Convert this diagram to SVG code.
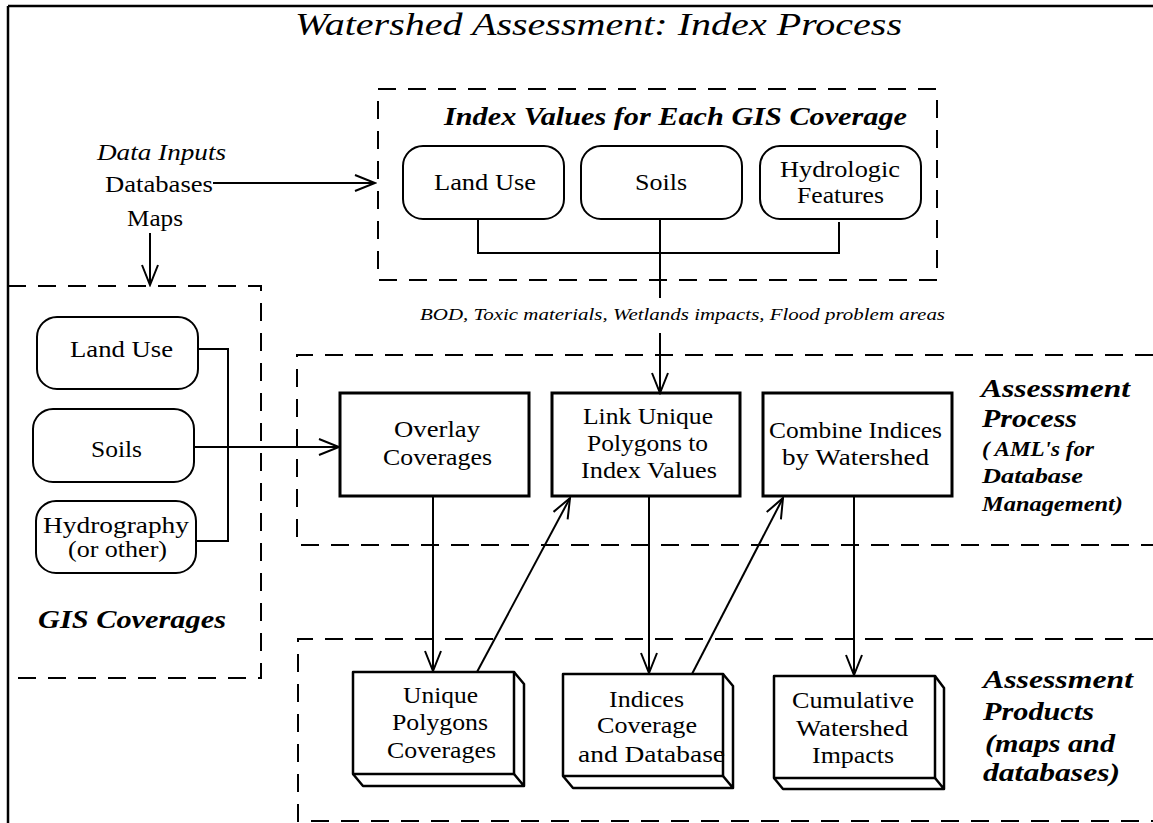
<svg xmlns="http://www.w3.org/2000/svg" width="1153" height="823" viewBox="0 0 1153 823" font-family="'Liberation Serif','DejaVu Serif',serif">
<style>
text{font-family:"Liberation Serif","DejaVu Serif","Times New Roman",serif;fill:#000}
.lb{font-size:23px}
.it{font-style:italic}
.bi{font-style:italic;font-weight:bold;font-size:25px}
.sm{font-size:21px}
.dash{fill:none;stroke:#000;stroke-width:2;stroke-dasharray:18 12}
.rr{fill:#fff;stroke:#000;stroke-width:2}
.pr{fill:#fff;stroke:#000;stroke-width:3}
.bx{fill:#fff;stroke:#000;stroke-width:2.5;stroke-linejoin:round}
.cn{fill:none;stroke:#000;stroke-width:2}
</style>
<defs>
<marker id="ah" markerUnits="userSpaceOnUse" markerWidth="24" markerHeight="22" viewBox="0 0 24 22" refX="22" refY="11" orient="auto">
<path d="M2,3 L22,11 L2,19" fill="none" stroke="#000" stroke-width="2"/>
</marker>
</defs>
<rect width="1153" height="823" fill="#fff"/>
<g id="frame">
<path d="M8,6 H1153 M8,6 V823" fill="none" stroke="#000" stroke-width="2.5"/>
</g>
<g id="title">
<text x="295" y="35" class="it" font-size="32" textLength="607" lengthAdjust="spacingAndGlyphs">Watershed Assessment: Index Process</text>
</g>
<g id="data-inputs">
<text x="97" y="160" class="lb it" textLength="129" lengthAdjust="spacingAndGlyphs">Data Inputs</text>
<text x="105" y="192" class="lb" textLength="108" lengthAdjust="spacingAndGlyphs">Databases</text>
<text x="127" y="226" class="lb" textLength="56" lengthAdjust="spacingAndGlyphs">Maps</text>
</g>
<g id="index-values">
<rect x="378" y="89" width="559" height="191" class="dash"/>
<text x="444" y="125" class="bi" textLength="463" lengthAdjust="spacingAndGlyphs">Index Values for Each GIS Coverage</text>
<g id="iv-landuse">
<rect x="403" y="146" width="161" height="73" rx="20" class="rr"/>
<text x="434" y="190" class="lb" textLength="102" lengthAdjust="spacingAndGlyphs">Land Use</text>
</g>
<g id="iv-soils">
<rect x="581" y="146" width="161" height="73" rx="20" class="rr"/>
<text x="635" y="190" class="lb" textLength="52" lengthAdjust="spacingAndGlyphs">Soils</text>
</g>
<g id="iv-hydro">
<rect x="760" y="146" width="161" height="73" rx="20" class="rr"/>
<text x="780" y="177" class="lb" textLength="120" lengthAdjust="spacingAndGlyphs">Hydrologic</text>
<text x="797" y="203" class="lb" textLength="87" lengthAdjust="spacingAndGlyphs">Features</text>
</g>
</g>
<g id="gis-coverages">
<rect x="8" y="286" width="253" height="392" class="dash"/>
<g id="gis-landuse">
<rect x="37" y="317" width="161" height="72" rx="20" class="rr"/>
<text x="70" y="357" class="lb" textLength="103" lengthAdjust="spacingAndGlyphs">Land Use</text>
</g>
<g id="gis-soils">
<rect x="33" y="409" width="161" height="73" rx="20" class="rr"/>
<text x="91" y="457" class="lb" textLength="51" lengthAdjust="spacingAndGlyphs">Soils</text>
</g>
<g id="gis-hydro">
<rect x="36" y="501" width="160" height="72" rx="20" class="rr"/>
<text x="43" y="533" class="lb" textLength="146" lengthAdjust="spacingAndGlyphs">Hydrography</text>
<text x="68" y="557" class="lb" textLength="99" lengthAdjust="spacingAndGlyphs">(or other)</text>
</g>
<text x="38" y="628" class="bi" textLength="188" lengthAdjust="spacingAndGlyphs">GIS Coverages</text>
</g>
<g id="assessment-process">
<path d="M1153,355 H297 V545 H1153" class="dash"/>
<text x="981" y="397" class="bi" textLength="149" lengthAdjust="spacingAndGlyphs">Assessment</text>
<text x="982" y="427" class="bi" textLength="95" lengthAdjust="spacingAndGlyphs">Process</text>
<text x="982" y="456" class="bi sm" textLength="112" lengthAdjust="spacingAndGlyphs">( AML's for</text>
<text x="982" y="483" class="bi sm" textLength="101" lengthAdjust="spacingAndGlyphs">Database</text>
<text x="982" y="511" class="bi sm" textLength="141" lengthAdjust="spacingAndGlyphs">Management)</text>
<g id="overlay">
<rect x="340" y="393" width="189" height="103" class="pr"/>
<text x="394" y="437" class="lb" textLength="86" lengthAdjust="spacingAndGlyphs">Overlay</text>
<text x="383" y="465" class="lb" textLength="109" lengthAdjust="spacingAndGlyphs">Coverages</text>
</g>
<g id="link">
<rect x="552" y="393" width="188" height="103" class="pr"/>
<text x="583" y="424" class="lb" textLength="130" lengthAdjust="spacingAndGlyphs">Link Unique</text>
<text x="587" y="451" class="lb" textLength="121" lengthAdjust="spacingAndGlyphs">Polygons to</text>
<text x="581" y="478" class="lb" textLength="136" lengthAdjust="spacingAndGlyphs">Index Values</text>
</g>
<g id="combine">
<rect x="763" y="393" width="189" height="103" class="pr"/>
<text x="769" y="438" class="lb" textLength="173" lengthAdjust="spacingAndGlyphs">Combine Indices</text>
<text x="782" y="465" class="lb" textLength="147" lengthAdjust="spacingAndGlyphs">by Watershed</text>
</g>
</g>
<g id="assessment-products">
<path d="M1153,639 H298 V821 H1153" class="dash"/>
<text x="983" y="688" class="bi" textLength="150" lengthAdjust="spacingAndGlyphs">Assessment</text>
<text x="983" y="720" class="bi" textLength="111" lengthAdjust="spacingAndGlyphs">Products</text>
<text x="985" y="752" class="bi" textLength="130" lengthAdjust="spacingAndGlyphs">(maps and</text>
<text x="983" y="781" class="bi" textLength="137" lengthAdjust="spacingAndGlyphs">databases)</text>
<g id="unique-polygons">
<path d="M514,672 L524,684 L524,786 L363,786 L353,774 M514,774 L524,786" class="bx"/>
<rect x="353" y="672" width="161" height="102" class="bx"/>
<text x="403" y="703" class="lb" textLength="75" lengthAdjust="spacingAndGlyphs">Unique</text>
<text x="392" y="730" class="lb" textLength="96" lengthAdjust="spacingAndGlyphs">Polygons</text>
<text x="387" y="758" class="lb" textLength="109" lengthAdjust="spacingAndGlyphs">Coverages</text>
</g>
<g id="indices">
<path d="M723,674 L733,686 L733,788 L573,788 L563,776 M723,776 L733,788" class="bx"/>
<rect x="563" y="674" width="160" height="102" class="bx"/>
<text x="609" y="707" class="lb" textLength="75" lengthAdjust="spacingAndGlyphs">Indices</text>
<text x="597" y="733" class="lb" textLength="100" lengthAdjust="spacingAndGlyphs">Coverage</text>
<text x="578" y="762" class="lb" textLength="147" lengthAdjust="spacingAndGlyphs">and Database</text>
</g>
<g id="cumulative">
<path d="M935,676 L944,688 L944,789 L783,789 L774,778 M935,778 L944,789" class="bx"/>
<rect x="774" y="676" width="161" height="102" class="bx"/>
<text x="792" y="708" class="lb" textLength="122" lengthAdjust="spacingAndGlyphs">Cumulative</text>
<text x="796" y="736" class="lb" textLength="112" lengthAdjust="spacingAndGlyphs">Watershed</text>
<text x="812" y="763" class="lb" textLength="82" lengthAdjust="spacingAndGlyphs">Impacts</text>
</g>
</g>
<g id="connectors">
<path d="M213,183 H375" class="cn" marker-end="url(#ah)"/>
<path d="M150,233 V285" class="cn" marker-end="url(#ah)"/>
<path d="M478,219 V253 H839 V222 M660,219 V298" class="cn"/>
<path d="M660,333 V393" class="cn" marker-end="url(#ah)"/>
<path d="M198,349 H228 V541 H196" class="cn"/>
<path d="M194,447 H339" class="cn" marker-end="url(#ah)"/>
<path d="M433,496 V671" class="cn" marker-end="url(#ah)"/>
<path d="M477,672 L570,498" class="cn" marker-end="url(#ah)"/>
<path d="M649,496 V673" class="cn" marker-end="url(#ah)"/>
<path d="M692,674 L783,498" class="cn" marker-end="url(#ah)"/>
<path d="M854,496 V675" class="cn" marker-end="url(#ah)"/>
<text x="420" y="320" class="it" font-size="17" textLength="525" lengthAdjust="spacingAndGlyphs">BOD, Toxic materials, Wetlands impacts, Flood problem areas</text>
</g>
</svg>
